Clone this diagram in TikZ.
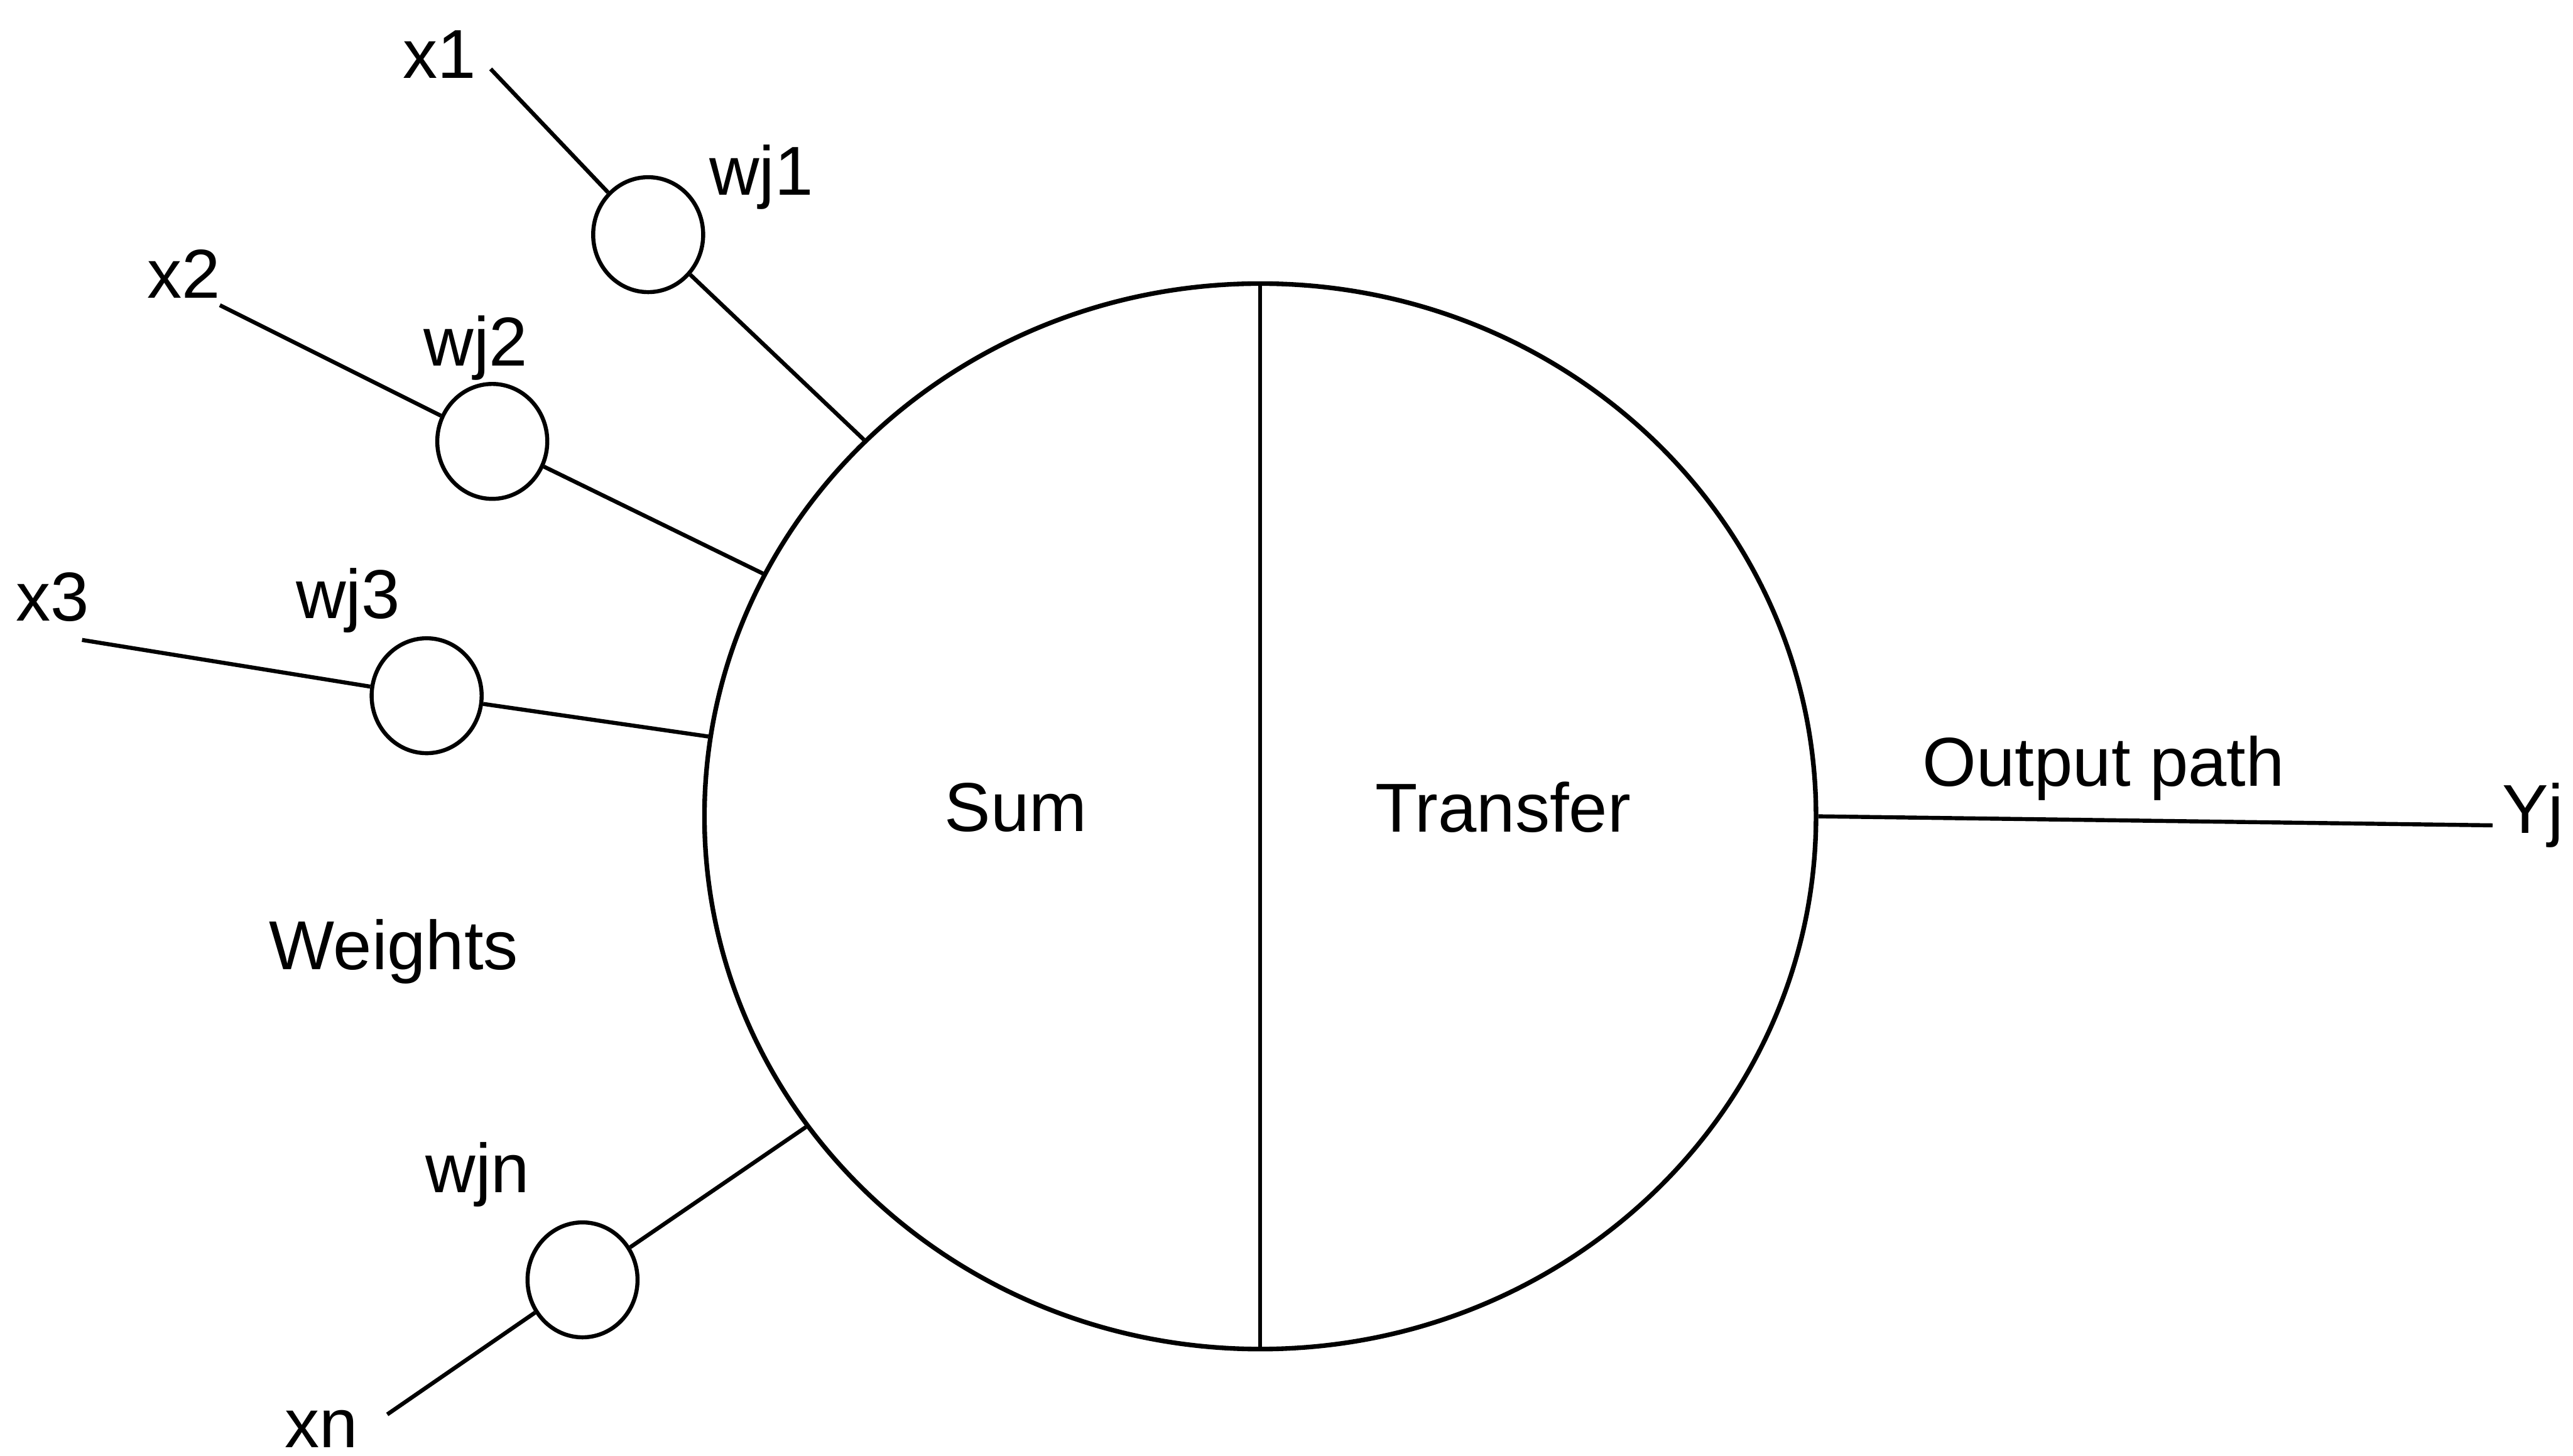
\documentclass[tikz,border=0pt]{standalone}
\usepackage{fontspec}
\setmainfont{Liberation Sans}
\usetikzlibrary{shapes.geometric}
\begin{document}
\begin{tikzpicture}[x=0.01cm,y=-0.01cm,
  wire/.style={line width=0.7pt},
  weightnode/.style={draw,line width=0.7pt,ellipse,minimum width=0.67cm,minimum height=0.70cm,inner sep=0pt},
  lbl/.style={font=\fontsize{12}{14}\selectfont,inner sep=0pt}]
\useasboundingbox (0,0) rectangle (1568,887);
% main neuron
\node[draw,ellipse,line width=0.8pt,minimum width=6.77cm,minimum height=6.49cm,inner sep=0pt] (neuron) at (768,497.5) {};
\draw[wire] (neuron.north) -- (neuron.south);
\node[lbl] (sum) at (619,492) {Sum};
\node[lbl] (transfer) at (916,492) {Transfer};
% weights
\node[weightnode] (w1) at (395,143) {};
\node[weightnode] (w2) at (300,269) {};
\node[weightnode] (w3) at (260,424) {};
\node[weightnode] (wn) at (355,780) {};
% input ends
\coordinate (i1) at (299,42);
\coordinate (i2) at (134,186);
\coordinate (i3) at (50,390);
\coordinate (in) at (236,862);
\coordinate (yout) at (1519,503);
\draw[wire] (i1) -- (w1) -- (neuron);
\draw[wire] (i2) -- (w2) -- (neuron);
\draw[wire] (i3) -- (w3) -- (neuron);
\draw[wire] (in) -- (wn) -- (neuron);
\draw[wire] (neuron.east) -- (yout);
% labels
\node[lbl] (lx1) at (268,33) {x1};
\node[lbl] (lw1) at (464,108) {wj1};
\node[lbl] (lx2) at (112,167) {x2};
\node[lbl] (lw2) at (290,212) {wj2};
\node[lbl] (lx3) at (32,364) {x3};
\node[lbl] (lw3) at (212,366) {wj3};
\node[lbl] (lwn) at (291,716) {wjn};
\node[lbl] (lxn) at (196,871) {xn};
\node[lbl] (weights) at (240,580) {Weights};
\node[lbl] (outpath) at (1282,468) {Output path};
\node[lbl,anchor=east] (yj) at (1563,497) {Yj};
\end{tikzpicture}
\end{document}
